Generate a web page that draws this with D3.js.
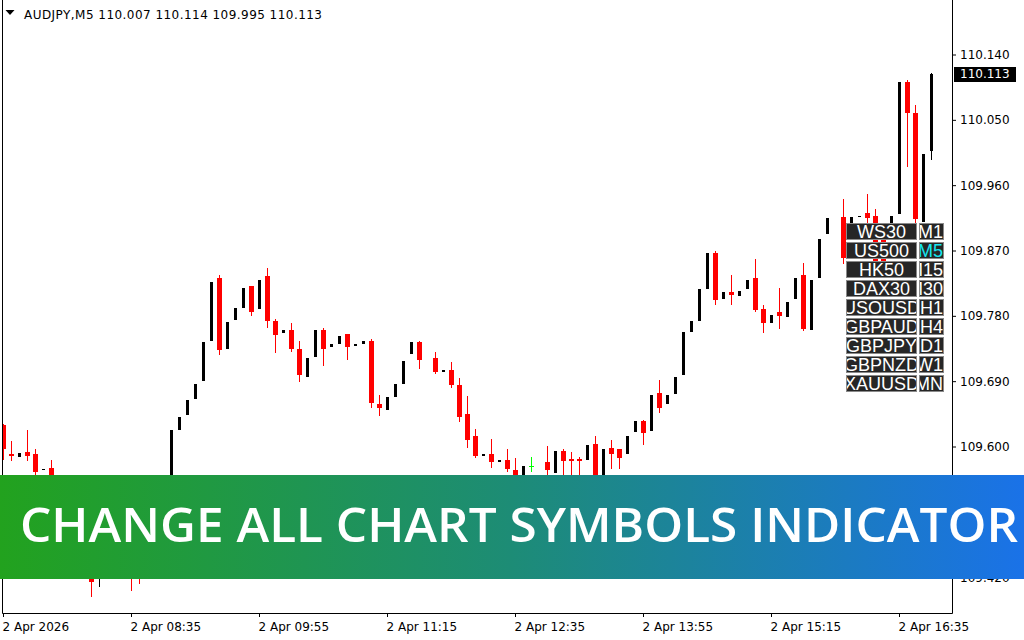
<!DOCTYPE html>
<html>
<head>
<meta charset="utf-8">
<script src="https://cdn.jsdelivr.net/npm/d3@7"></script>
<style>
    body { margin: 0; background: #fff; }
    svg { display: block; }
    .axis text { font-family: "DejaVu Sans", Verdana, sans-serif; font-size: 12px; fill: #000; }
    .axis line { stroke: #000; }
</style>
</head>
<body>
<div id="content"></div>
<script>
// ======= data =======
var symbolName = "AUDJPY,M5";
var lastBar = [110.007, 110.114, 109.995, 110.113];
var timeLabels = ["2 Apr 2026", "2 Apr 08:35", "2 Apr 09:55", "2 Apr 11:15", "2 Apr 12:35", "2 Apr 13:55", "2 Apr 15:15", "2 Apr 16:35"];
var priceTicks = [110.140, 110.050, 109.960, 109.870, 109.780, 109.690, 109.600, 109.510, 109.420];
var symbols = ["WS30", "US500", "HK50", "DAX30", "USOUSD", "GBPAUD", "GBPJPY", "GBPNZD", "XAUUSD"];
var periods = ["M1", "M5", "M15", "M30", "H1", "H4", "D1", "W1", "MN"];
var activePeriod = "M5";
var bannerText = "CHANGE ALL CHART SYMBOLS INDICATOR";

// one entry per M5 bar, null where no bar is drawn
var opens = [109.629,109.590,109.586,109.593,109.590,109.568,109.571,109.543,109.518,109.527,
    109.488,109.458,109.417,109.441,109.469,109.451,109.472,109.451,109.430,109.465,
    109.499,109.529,109.623,109.644,109.666,109.690,109.745,109.832,109.734,109.774,
    109.791,109.821,109.789,109.835,109.773,109.756,109.761,109.734,109.696,109.723,
    109.761,109.737,109.741,109.755,109.739,109.741,109.745,109.659,109.650,109.668,
    109.686,109.728,109.744,null,109.722,109.703,109.706,109.685,109.645,109.615,
    109.587,109.590,109.579,109.582,109.568,109.546,109.573,109.557,109.579,109.564,
    109.594,109.583,109.583,109.582,109.604,109.551,109.598,109.596,109.589,109.620,
    109.635,109.622,109.674,109.658,109.673,109.699,109.758,109.773,109.817,109.867,
    109.803,109.813,109.807,109.817,109.832,109.789,109.770,109.785,109.778,109.803,
    109.836,109.761,109.832,109.893,null,109.916,109.898,109.916,109.921,109.917,
    109.884,109.884,109.920,110.102,110.059,109.909,110.007];
var highs = [109.631,109.608,109.591,109.623,109.597,109.569,109.582,109.549,109.531,109.532,
    109.496,109.465,109.450,109.477,109.477,109.481,109.483,109.461,109.474,109.508,
    109.536,109.623,109.640,109.664,109.686,109.744,109.827,109.836,109.772,109.791,
    109.818,109.821,109.829,109.846,109.776,109.761,109.770,109.745,109.722,109.761,
    109.763,109.741,109.752,109.755,109.741,109.745,109.748,109.671,109.668,109.686,
    109.718,109.744,109.745,null,109.730,109.706,109.717,109.695,109.670,109.624,
    109.589,109.611,109.582,109.597,109.584,109.573,109.586,109.560,109.601,109.594,
    109.597,109.593,109.586,109.602,109.615,109.596,109.609,109.597,109.615,109.635,
    109.637,109.671,109.692,109.671,109.696,109.758,109.773,109.817,109.867,109.869,
    109.813,109.836,109.814,109.829,109.858,109.795,109.781,109.818,109.799,109.832,
    109.853,109.829,109.886,109.915,null,109.941,109.916,109.918,109.948,109.927,
    109.886,109.917,110.102,110.105,110.070,110.003,110.114];
var lows = [109.582,109.580,109.586,109.580,109.561,109.568,109.535,109.513,109.516,109.477,
    109.447,109.392,109.406,109.436,109.441,109.449,109.401,109.410,109.428,109.463,
    109.497,109.529,109.623,109.644,109.666,109.690,109.745,109.726,109.734,109.774,
    109.791,109.780,109.789,109.763,109.729,109.756,109.730,109.689,109.696,109.723,
    109.711,109.737,109.741,109.719,109.739,109.741,109.653,109.642,109.650,109.668,
    109.686,109.728,109.707,null,109.700,109.703,109.681,109.634,109.598,109.584,
    109.587,109.571,109.579,109.565,109.540,109.546,109.565,109.532,109.561,109.564,
    109.561,109.557,109.554,109.582,109.546,109.551,109.569,109.569,109.589,109.620,
    109.602,109.622,109.646,109.658,109.673,109.699,109.758,109.773,109.817,109.795,
    109.803,109.795,109.807,109.817,109.785,109.756,109.770,109.762,109.778,109.803,
    109.759,109.761,109.832,109.893,null,109.851,109.898,109.916,109.904,109.840,
    109.850,109.884,109.920,109.985,109.906,109.909,109.995];
var closes = [109.596,109.587,109.591,109.587,109.565,109.569,109.540,109.520,109.529,109.485,
    109.455,109.414,109.444,109.472,109.450,109.479,109.430,109.428,109.472,109.506,
    109.534,109.623,109.640,109.664,109.686,109.744,109.827,109.733,109.772,109.791,
    109.818,109.785,109.829,109.773,109.754,109.761,109.734,109.699,109.722,109.761,
    109.734,109.741,109.752,109.737,109.741,109.745,109.660,109.653,109.668,109.686,
    109.718,109.744,109.719,null,109.703,109.706,109.685,109.641,109.609,109.587,
    109.589,109.578,109.582,109.569,109.547,109.573,109.573,109.538,109.567,109.594,
    109.580,109.580,109.580,109.602,109.551,109.596,109.590,109.584,109.615,109.635,
    109.618,109.671,109.653,109.671,109.696,109.758,109.773,109.817,109.867,109.802,
    109.813,109.809,109.814,109.829,109.788,109.770,109.781,109.780,109.799,109.832,
    109.762,109.829,109.886,109.915,null,109.860,109.916,109.918,109.915,109.854,
    109.854,109.917,110.102,110.059,109.913,110.003,110.113];

// ======= formatting =======
var width = 1024;
var height = 640;
var plot = {left: 3, right: 952, top: 0, bottom: 613};
var upColor = "#000000";
var downColor = "#ff0000";
var dojiColor = "#00ff00";

// ======= bars =======
var bars = [];
opens.forEach(function(o, i) {
    if (o === null) return;
    bars.push({i: i, o: o, h: highs[i], l: lows[i], c: closes[i]});
});

// ======= scales =======
var xScale = d3.scaleLinear()
    .domain([0, opens.length - 1])
    .range([3, 3 + 8 * (opens.length - 1)]);
var yScale = d3.scaleLinear()
    .domain([109.600, 110.140])
    .range([446.5, 54.5]);
var rowScale = d3.scaleBand()
    .domain(symbols)
    .range([223, 392])
    .paddingInner(2 / 19);

// ======= elements =======
var svgEl = d3.select("#content")
    .append("svg")
        .attr("width", width)
        .attr("height", height);
var defs = svgEl.append("defs");

defs.append("clipPath")
    .attr("id", "plotClip")
    .append("rect")
        .attr("x", plot.left)
        .attr("y", plot.top)
        .attr("width", plot.right - plot.left)
        .attr("height", plot.bottom - plot.top);

// ======= candles =======
var candles = svgEl.append("g")
    .attr("clip-path", "url(#plotClip)")
    .attr("shape-rendering", "crispEdges")
    .selectAll("g")
    .data(bars)
    .enter()
    .append("g");

function candleColor(d) {
    if (d.o === d.c) return dojiColor;
    return d.c > d.o ? upColor : downColor;
}

// wicks
candles.append("rect")
    .attr("x", function(d) { return xScale(d.i); })
    .attr("width", 1)
    .attr("y", function(d) { return Math.round(yScale(d.h)); })
    .attr("height", function(d) {
        return Math.max(1, Math.round(yScale(d.l)) - Math.round(yScale(d.h)));
    })
    .style("fill", candleColor);

// bodies
candles.append("rect")
    .attr("x", function(d) {
        return d.c > d.o ? xScale(d.i) - 1 : xScale(d.i) - 2;
    })
    .attr("width", function(d) { return d.c > d.o ? 3 : 5; })
    .attr("y", function(d) { return Math.round(yScale(Math.max(d.o, d.c))); })
    .attr("height", function(d) {
        return Math.max(1, Math.round(yScale(Math.min(d.o, d.c))) - Math.round(yScale(Math.max(d.o, d.c))));
    })
    .style("fill", candleColor);

// ======= frame =======
var frame = svgEl.append("g").attr("stroke", "#000").attr("stroke-width", 1);
frame.append("line").attr("x1", 2.5).attr("x2", 2.5).attr("y1", 0).attr("y2", plot.bottom + 0.5);
frame.append("line").attr("x1", 2.5).attr("x2", plot.right + 0.5).attr("y1", plot.bottom + 0.5).attr("y2", plot.bottom + 0.5);
frame.append("line").attr("x1", plot.right + 0.5).attr("x2", plot.right + 0.5).attr("y1", 0).attr("y2", plot.bottom + 0.5);

// ======= y axis =======
var yAxis = svgEl.append("g")
    .attr("class", "axis axis-y")
    .attr("transform", "translate(" + plot.right + ",0)")
    .call(d3.axisRight(yScale)
        .tickValues(priceTicks)
        .tickSize(4)
        .tickPadding(4)
        .tickFormat(d3.format(".3f")));
yAxis.select(".domain").remove();

// current price label
var lastClose = lastBar[3];
svgEl.append("rect")
    .attr("x", 954)
    .attr("y", Math.round(yScale(lastClose)) - 7)
    .attr("width", 62)
    .attr("height", 15)
    .style("fill", "#000");
svgEl.append("text")
    .attr("x", 960)
    .attr("y", yScale(lastClose))
    .attr("dy", "0.36em")
    .style("font-family", "DejaVu Sans, Verdana, sans-serif")
    .style("font-size", "12px")
    .style("fill", "#fff")
    .text(d3.format(".3f")(lastClose));

// ======= x axis =======
var xAxis = svgEl.append("g")
    .attr("class", "axis axis-x")
    .attr("transform", "translate(0," + plot.bottom + ")")
    .call(d3.axisBottom(xScale)
        .tickValues(d3.range(0, opens.length, 16))
        .tickSize(4)
        .tickPadding(5)
        .tickFormat(function(d, i) { return timeLabels[i]; }));
xAxis.select(".domain").remove();
xAxis.selectAll("text")
    .style("text-anchor", "start")
    .attr("x", -1);

// ======= header =======
svgEl.append("path")
    .attr("d", "M5.5,10 L14.5,10 L10,15 Z")
    .style("fill", "#000");
svgEl.append("text")
    .attr("x", 24)
    .attr("y", 18.5)
    .attr("textLength", 298)
    .attr("lengthAdjust", "spacing")
    .style("font-family", "DejaVu Sans, Verdana, sans-serif")
    .style("font-size", "12px")
    .style("fill", "#000")
    .text(symbolName + "  " + lastBar.map(d3.format(".3f")).join(" "));

// ======= symbol buttons =======
var colLeft = {x: 846, w: 71};
var colRight = {x: 919, w: 25};
var rows = symbols.map(function(s, i) { return {sym: s, per: periods[i]}; });

function addButtons(col, key, anchor, cls) {
    defs.selectAll("clipPath." + cls)
        .data(rows)
        .enter()
        .append("clipPath")
            .attr("class", cls)
            .attr("id", function(d, i) { return cls + i; })
        .append("rect")
            .attr("x", col.x + 1)
            .attr("y", function(d) { return rowScale(d.sym) + 1; })
            .attr("width", col.w - 2)
            .attr("height", rowScale.bandwidth() - 2);

    var btn = svgEl.append("g")
        .selectAll("g")
        .data(rows)
        .enter()
        .append("g");
    btn.append("rect")
        .attr("x", col.x + 0.5)
        .attr("y", function(d) { return rowScale(d.sym) + 0.5; })
        .attr("width", col.w - 1)
        .attr("height", rowScale.bandwidth() - 1)
        .style("fill", "#262626")
        .style("stroke", "#8a8a8a")
        .style("stroke-width", 1);
    btn.append("text")
        .attr("clip-path", function(d, i) { return "url(#" + cls + i + ")"; })
        .attr("x", anchor === "middle" ? col.x + col.w / 2 : col.x + col.w - 1)
        .attr("y", function(d) { return rowScale(d.sym) + 15; })
        .attr("text-anchor", anchor)
        .style("font-family", "Liberation Sans, Arial, sans-serif")
        .style("font-size", "18px")
        .style("fill", function(d) { return d[key] === activePeriod ? "#16e6f2" : "#ffffff"; })
        .text(function(d) { return d[key]; });
}
addButtons(colLeft, "sym", "middle", "clipSym");
addButtons(colRight, "per", "end", "clipPer");

// ======= banner =======
var grad = defs.append("linearGradient")
    .attr("id", "bannerGrad")
    .attr("x1", "0%").attr("x2", "100%")
    .attr("y1", "0%").attr("y2", "0%");
grad.append("stop").attr("offset", "0%").attr("stop-color", "#22a21e");
grad.append("stop").attr("offset", "50%").attr("stop-color", "#1d8c76");
grad.append("stop").attr("offset", "100%").attr("stop-color", "#1a72e8");

svgEl.append("rect")
    .attr("x", 0)
    .attr("y", 475)
    .attr("width", width)
    .attr("height", 104)
    .style("fill", "url(#bannerGrad)");
svgEl.append("text")
    .attr("x", 20)
    .attr("y", 542)
    .attr("textLength", 998)
    .attr("lengthAdjust", "spacingAndGlyphs")
    .style("font-family", "Open Sans, Lato, sans-serif")
    .style("font-weight", 600)
    .style("font-size", "47px")
    .style("fill", "#fff")
    .text(bannerText);
</script>
</body>
</html>
